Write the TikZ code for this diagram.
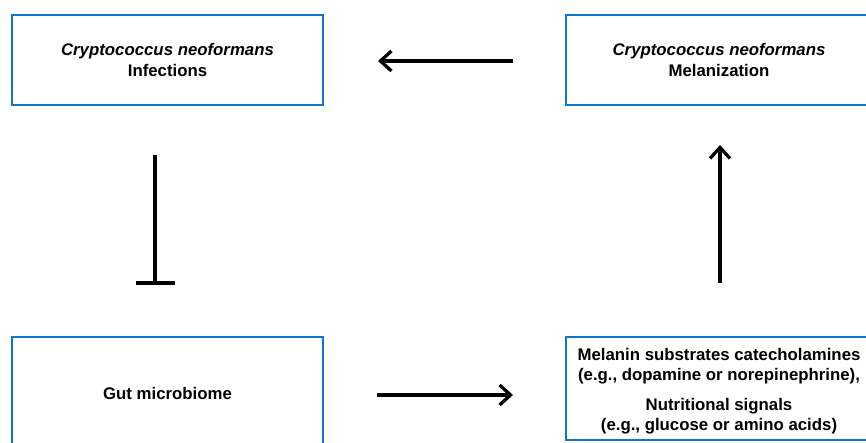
\documentclass[tikz,border=0pt]{standalone}
\usepackage{fontspec}
\setmainfont{Liberation Sans}
\usetikzlibrary{arrows.meta}
\definecolor{boxblue}{RGB}{16,118,204}
\begin{document}
\begin{tikzpicture}[x=1pt,y=-1pt,
  box/.style={draw=boxblue,line width=2.8pt,minimum width=311pt,minimum height=90pt,align=center,font=\fontsize{16.8}{21}\selectfont\bfseries,inner sep=0pt},
  txt/.style={align=center,font=\fontsize{16.8}{20}\selectfont\bfseries,inner sep=0pt},
  conn/.style={line width=3.3pt,black},
  arr/.style={conn,-{Straight Barb[length=11pt,width=20pt,line width=3.3pt]}}]
\useasboundingbox (0,0) rectangle (866,443);
\clip (0,0) rectangle (866,443);
\node[box] (inf) at (167.5,60) {\textit{Cryptococcus neoformans}\\Infections};
\node[box,minimum width=306pt] (mel) at (719,60) {\textit{Cryptococcus neoformans}\\Melanization};
\node[box,minimum height=112pt] (gut) at (167.5,393) {Gut microbiome};
\node[box,minimum width=306pt,minimum height=103pt] (sub) at (719,388.5) {};
\node[txt] (subtext) at (719,391.5) {Melanin substrates catecholamines\\(e.g., dopamine or norepinephrine),\\[10pt]Nutritional signals\\(e.g., glucose or amino acids)};
\coordinate (a1s) at (513,61);
\coordinate (a1e) at (378,61);
\coordinate (i1s) at (155,155);
\coordinate (i1e) at (155,283);
\coordinate (b1l) at (136,283);
\coordinate (b1r) at (175,283);
\coordinate (a2s) at (377,395);
\coordinate (a2e) at (513,395);
\coordinate (a3s) at (720,283);
\coordinate (a3e) at (720,145);
\draw[arr] (a1s) -- (a1e);
\draw[conn] (i1s) -- (i1e);
\draw[conn] (b1l) -- (b1r);
\draw[arr] (a2s) -- (a2e);
\draw[arr] (a3s) -- (a3e);
\end{tikzpicture}
\end{document}
